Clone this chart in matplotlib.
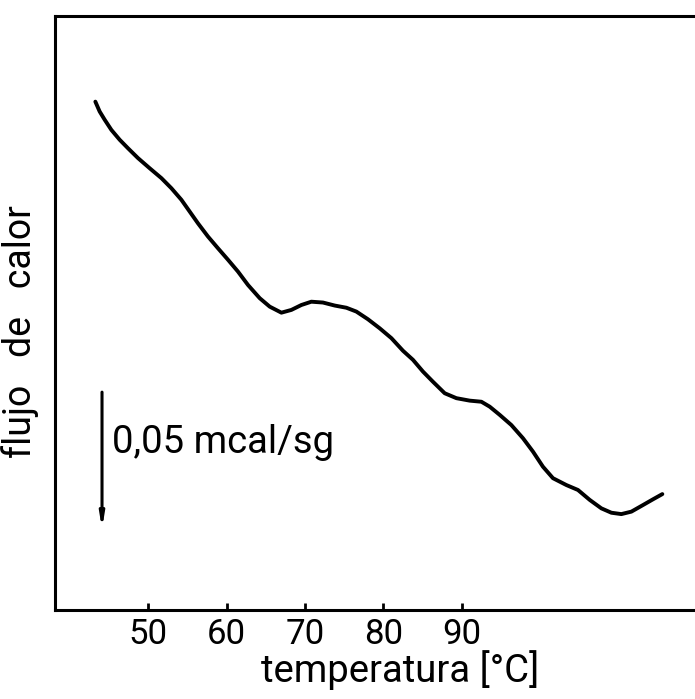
#!/usr/bin/env python3
# DSC trace: heat flow vs temperature

import numpy as np
import matplotlib.pyplot as plt

# ------------------------- data -------------------------
temperature = [43.25, 43.80, 44.44, 45.29, 46.35, 47.41, 48.69, 50.18, 51.67, 52.95,
               54.22, 55.28, 56.34, 57.61, 58.89, 60.17, 61.44, 62.72, 64.21, 65.49,
               66.98, 68.25, 69.53, 70.80, 72.28, 73.78, 75.27, 76.54, 78.02, 79.52,
               81.01, 82.49, 83.76, 85.04, 86.31, 87.81, 89.30, 91.00, 92.49, 93.55,
               94.83, 96.31, 97.79, 99.07, 100.34, 101.62, 103.33, 104.81, 106.30, 107.79,
               109.07, 110.34, 111.62, 113.10, 114.38, 115.57]
heat_flow = [0.1855, 0.1819, 0.1789, 0.1752, 0.1716, 0.1685, 0.1649, 0.1612, 0.1576, 0.1539,
             0.1497, 0.1454, 0.1411, 0.1363, 0.1320, 0.1278, 0.1235, 0.1186, 0.1138, 0.1107,
             0.1085, 0.1095, 0.1113, 0.1125, 0.1122, 0.1111, 0.1103, 0.1089, 0.1061, 0.1028,
             0.0992, 0.0946, 0.0913, 0.0870, 0.0833, 0.0791, 0.0773, 0.0764, 0.0760, 0.0742,
             0.0712, 0.0675, 0.0627, 0.0578, 0.0523, 0.0481, 0.0456, 0.0438, 0.0402, 0.0371,
             0.0355, 0.0350, 0.0359, 0.0383, 0.0404, 0.0423]  # mcal/s, arbitrary offset

x_ticks = [50, 60, 70, 80, 90]
scale_bar = 0.05          # mcal/s
scale_bar_x = 44.1
scale_bar_top = 0.0795

plt.rcParams['font.family'] = ['Roboto', 'DejaVu Sans']

fig = plt.figure(figsize=(6.95, 6.99), dpi=100)
# axes run past the right edge of the figure, like a cropped scan
axs = fig.add_axes([0.0791, 0.1273, 0.93, 0.850])

axs.plot(temperature, heat_flow, color="black", linewidth=2.8,
         solid_capstyle="round", solid_joinstyle="round")

# scale bar arrow
axs.annotate("", xy=(scale_bar_x, scale_bar_top - scale_bar), xytext=(scale_bar_x, scale_bar_top),
             arrowprops=dict(arrowstyle="-|>,head_length=0.8,head_width=0.13",
                             color="black", lw=2.2, shrinkA=0, shrinkB=0))
axs.text(scale_bar_x + 1.25, scale_bar_top - 0.0185, "0,05 mcal/sg", fontsize=27.5,
         va="center", ha="left")

axs.set_xlim(38.1, 38.1 + 0.93 * 695 / 7.84)
axs.set_ylim(0.0, 0.2168)
axs.set_xticks(x_ticks)
axs.set_xticklabels([str(t) for t in x_ticks])
axs.set_yticks([])
axs.tick_params(axis="x", direction="in", length=5, width=2, pad=6, labelsize=25)

for side in ["left", "bottom", "top"]:
    axs.spines[side].set_linewidth(2.2)
axs.spines["right"].set_visible(False)

axs.set_xlabel("temperatura [°C]", fontsize=27.5)
axs.xaxis.set_label_coords(0.534, -0.067)
axs.set_ylabel("flujo   de   calor", fontsize=27)
axs.yaxis.set_label_coords(-0.024, 0.468)

fig.savefig("out.png", dpi=100)
